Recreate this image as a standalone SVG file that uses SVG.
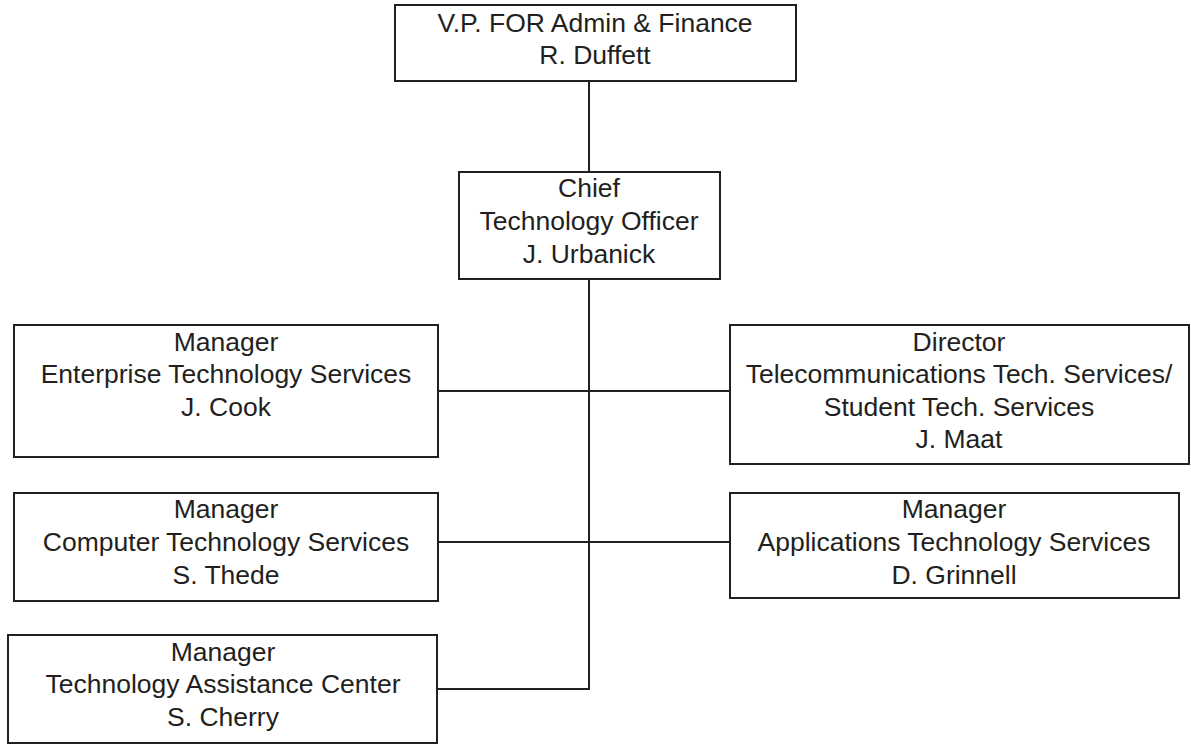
<svg xmlns="http://www.w3.org/2000/svg" width="1191" height="744" viewBox="0 0 1191 744">
<style>
.box{fill:#fff;stroke:#231f20;stroke-width:2}
.ln{fill:none;stroke:#231f20;stroke-width:2}
text{font-family:"Liberation Sans",Arial,sans-serif;font-size:26.5px;fill:#231f20;text-anchor:middle}
</style>
<rect width="1191" height="744" fill="#fff"/>
<g id="connectors">
<line class="ln" x1="589" y1="81" x2="589" y2="172"/>
<polyline class="ln" points="589,276 589,689 437,689"/>
<line class="ln" x1="438" y1="391" x2="730" y2="391"/>
<line class="ln" x1="438" y1="542" x2="730" y2="542"/>
</g>
<g id="vp">
<rect class="box" x="395" y="5" width="401" height="76"/>
<text x="595" y="32">V.P. FOR Admin &amp; Finance</text>
<text x="595" y="64">R. Duffett</text>
</g>
<g id="cto">
<rect class="box" x="459" y="172" width="261" height="107"/>
<text x="589" y="197">Chief</text>
<text x="589" y="230">Technology Officer</text>
<text x="589" y="263">J. Urbanick</text>
</g>
<g id="ets">
<rect class="box" x="14" y="325" width="424" height="132"/>
<text x="226" y="351">Manager</text>
<text x="226" y="383">Enterprise Technology Services</text>
<text x="226" y="416">J. Cook</text>
</g>
<g id="tts">
<rect class="box" x="730" y="325" width="459" height="139"/>
<text x="959" y="351">Director</text>
<text x="959" y="383">Telecommunications Tech. Services/</text>
<text x="959" y="416">Student Tech. Services</text>
<text x="959" y="448">J. Maat</text>
</g>
<g id="cts">
<rect class="box" x="14" y="493" width="424" height="108"/>
<text x="226" y="518">Manager</text>
<text x="226" y="551">Computer Technology Services</text>
<text x="226" y="584">S. Thede</text>
</g>
<g id="ats">
<rect class="box" x="730" y="493" width="449" height="105"/>
<text x="954" y="518">Manager</text>
<text x="954" y="551">Applications Technology Services</text>
<text x="954" y="584">D. Grinnell</text>
</g>
<g id="tac">
<rect class="box" x="8" y="635" width="429" height="108"/>
<text x="223" y="661">Manager</text>
<text x="223" y="693">Technology Assistance Center</text>
<text x="223" y="726">S. Cherry</text>
</g>
</svg>
